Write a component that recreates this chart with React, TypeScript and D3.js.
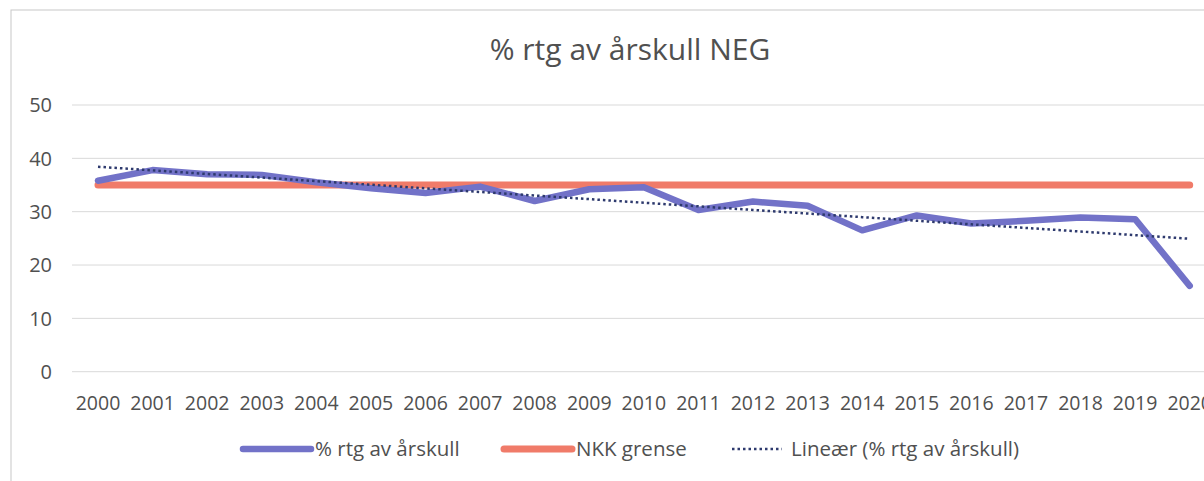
import React from "react";
import * as d3 from "d3";

// årskull
const years = [
  "2000", "2001", "2002", "2003", "2004", "2005", "2006", "2007", "2008", "2009", "2010",
  "2011", "2012", "2013", "2014", "2015", "2016", "2017", "2018", "2019", "2020",
];
// % rtg av årskull
const rtgPct = [
  35.8, 37.8, 37.0, 36.9, 35.5, 34.4, 33.5, 34.7, 32.0, 34.2, 34.6,
  30.3, 31.9, 31.1, 26.5, 29.3, 27.8, 28.3, 28.9, 28.6, 16.1,
];
// NKK grense
const nkkLimit = years.map(() => 35);
const yTicks = [0, 10, 20, 30, 40, 50];

const FONT = "'Open Sans', 'Noto Sans', sans-serif";
const TXT = "#505050";
const BLUE = "#7272c8";
const RED = "#f07b69";
const DOTS = "#2e3a6e";

const App = () => {
  const width = 1204;
  const height = 481;

  const x = d3.scalePoint<string>().domain(years).range([70.7, 1217]).padding(0.5);
  const y = d3.scaleLinear().domain([0, 50]).range([371.7, 105]);

  // linear trendline (least squares over the category index)
  const n = rtgPct.length;
  const mx = (n - 1) / 2;
  const my = d3.mean(rtgPct) as number;
  const slope =
    d3.sum(rtgPct, (v, i) => (i - mx) * (v - my)) / d3.sum(rtgPct, (_, i) => (i - mx) ** 2);
  const trend = rtgPct.map((_, i) => my + slope * (i - mx));

  const line = d3
    .line<number>()
    .x((_, i) => x(years[i]) as number)
    .y((d) => y(d));

  return (
    <svg
      width={width}
      height={height}
      style={{ position: "absolute", left: 0, top: 0, background: "#fff" }}
    >
      <rect x={11} y={10} width={1400} height={600} fill="#fff" stroke="#c8c8c8" />

      <text
        x={630}
        y={60}
        textAnchor="middle"
        fontFamily={FONT}
        fontSize={30}
        fill={TXT}
      >
        % rtg av årskull NEG
      </text>

      {/* gridlines */}
      {yTicks.map((t) => (
        <line key={t} x1={72} x2={1217} y1={y(t)} y2={y(t)} stroke="#d9d9d9" strokeWidth={1} />
      ))}
      {yTicks.map((t) => (
        <text
          key={"l" + t}
          x={52}
          y={y(t)}
          dy="0.36em"
          textAnchor="end"
          fontFamily={FONT}
          fontSize={20}
          fill={TXT}
        >
          {t}
        </text>
      ))}

      {years.map((yr) => (
        <text
          key={yr}
          x={x(yr)}
          y={410}
          textAnchor="middle"
          fontFamily={FONT}
          fontSize={19.5}
          fill={TXT}
        >
          {yr}
        </text>
      ))}

      <path d={line(nkkLimit) ?? ""} fill="none" stroke={RED} strokeWidth={7} strokeLinecap="round" />
      <path
        d={line(rtgPct) ?? ""}
        fill="none"
        stroke={BLUE}
        strokeWidth={6.5}
        strokeLinecap="round"
        strokeLinejoin="round"
      />
      <path
        d={line(trend) ?? ""}
        fill="none"
        stroke={DOTS}
        strokeWidth={2.5}
        strokeDasharray="2.5 3"
      />

      {/* legend */}
      <g fontFamily={FONT} fontSize={20.5} fill={TXT}>
        <line x1={243} x2={311} y1={449} y2={449} stroke={BLUE} strokeWidth={6.5} strokeLinecap="round" />
        <text x={315} y={456}>% rtg av årskull</text>
        <line x1={504} x2={572} y1={449} y2={449} stroke={RED} strokeWidth={7} strokeLinecap="round" />
        <text x={576} y={456}>NKK grense</text>
        <line x1={732} x2={782} y1={449} y2={449} stroke={DOTS} strokeWidth={2.5} strokeDasharray="2.5 3" />
        <text x={791} y={456}>Lineær (% rtg av årskull)</text>
      </g>
    </svg>
  );
};

export default App;
